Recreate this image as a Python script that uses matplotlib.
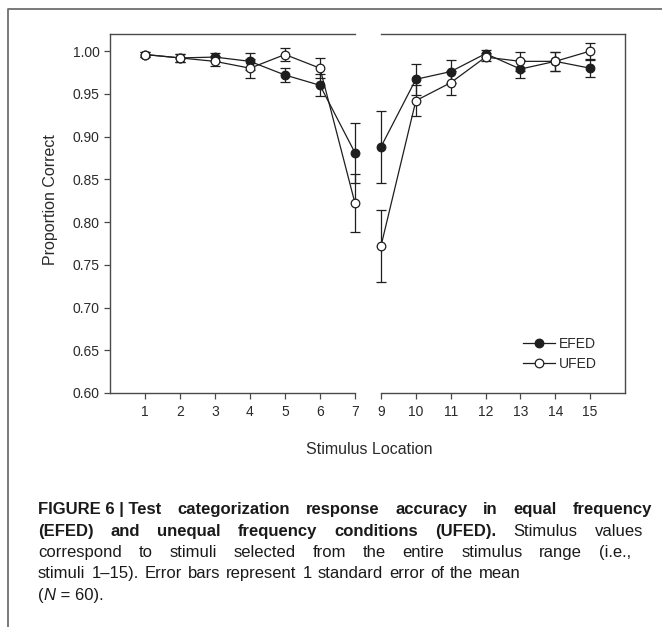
import numpy as np
import matplotlib.pyplot as plt
from matplotlib.lines import Line2D

W, H = 662, 627

# ---------------- data ----------------
stim_left = [1, 2, 3, 4, 5, 6, 7]
stim_right = [9, 10, 11, 12, 13, 14, 15]
efed = [0.996, 0.992, 0.993, 0.988, 0.972, 0.960, 0.881,
        0.888, 0.967, 0.976, 0.997, 0.979, 0.988, 0.980]
efed_se = [0.003, 0.005, 0.005, 0.010, 0.008, 0.013, 0.035,
           0.042, 0.018, 0.013, 0.004, 0.011, 0.011, 0.010]
ufed = [0.996, 0.992, 0.988, 0.980, 0.996, 0.980, 0.822,
        0.772, 0.942, 0.963, 0.993, 0.988, 0.988, 1.000]
ufed_se = [0.003, 0.005, 0.006, 0.011, 0.008, 0.012, 0.034,
           0.042, 0.018, 0.014, 0.005, 0.011, 0.011, 0.009]
yticks = [0.60, 0.65, 0.70, 0.75, 0.80, 0.85, 0.90, 0.95, 1.00]

caption = [
    [("FIGURE 6 | Test", "bold"), ("categorization", "bold"), ("response", "bold"),
     ("accuracy", "bold"), ("in", "bold"), ("equal", "bold"), ("frequency", "bold")],
    [("(EFED)", "bold"), ("and", "bold"), ("unequal", "bold"), ("frequency", "bold"),
     ("conditions", "bold"), ("(UFED).", "bold"), ("Stimulus", "normal"), ("values", "normal")],
    [(w, "normal") for w in "correspond to stimuli selected from the entire stimulus range (i.e.,".split()],
    [(w, "normal") for w in "stimuli 1\u201315). Error bars represent 1 standard error of the mean".split()],
]
caption_ends = [652, 643, 631, 521]

# ---------------- style ----------------
plt.rcParams['font.family'] = ['Liberation Sans', 'DejaVu Sans']
ink = '#1e1e1e'
axis_col = '#4a4a4a'
text_col = '#2a2a2a'

fig = plt.figure(figsize=(W / 100, H / 100), dpi=100)

def px_box(x0, y0, x1, y1):
    return [x0 / W, 1 - y1 / H, (x1 - x0) / W, (y1 - y0) / H]

top, bottom = 34, 393
axL = fig.add_axes(px_box(110, top, 355, bottom))
axR = fig.add_axes(px_box(381, top, 625, bottom))

n = len(stim_left)
for ax, xs, sl in [(axL, stim_left, slice(0, n)), (axR, stim_right, slice(n, None))]:
    for vals, errs in [(efed, efed_se), (ufed, ufed_se)]:
        eb = ax.errorbar(xs, vals[sl], yerr=errs[sl], fmt='none', ecolor=ink,
                         elinewidth=0.9, capsize=3.5, capthick=0.9, zorder=2)
        for art in eb.lines[1] + eb.lines[2]:
            art.set_clip_on(False)
    ax.plot(xs, efed[sl], '-o', color=ink, lw=0.9, ms=6.2, mfc=ink, mec=ink,
            mew=0.9, zorder=3, label='EFED', clip_on=False)
    ax.plot(xs, ufed[sl], '-o', color=ink, lw=0.9, ms=6.2, mfc='white', mec=ink,
            mew=0.9, zorder=4, label='UFED', clip_on=False)
    ax.set_ylim(0.60, 1.02)
    ax.set_xticks(xs)
    ax.tick_params(axis='both', direction='out', length=4, width=0.9,
                   color=axis_col, labelsize=10, labelcolor=text_col)
    ax.tick_params(axis='x', pad=5)
    for s in ax.spines.values():
        s.set_color(axis_col)
        s.set_linewidth(1.0)

axL.set_xlim(0, 7)
axR.set_xlim(9, 16)
axL.spines['right'].set_visible(False)
axR.spines['left'].set_visible(False)
axL.set_yticks(yticks)
axL.set_yticklabels(['%.2f' % v for v in yticks])
axR.set_yticks([])

axR.legend(loc='center left', bbox_to_anchor=(523 / W, 1 - 354 / H),
           bbox_transform=fig.transFigure, frameon=False, fontsize=10,
           handlelength=2.3, handletextpad=0.3, labelspacing=0.4,
           borderpad=0, borderaxespad=0, labelcolor=text_col)

fig.text(51 / W, 1 - 200 / H, 'Proportion Correct', rotation=90, ha='center',
         va='center', fontsize=11.5, color=text_col)
fig.text(369 / W, 1 - 449 / H, 'Stimulus Location', ha='center', va='center',
         fontsize=11.5, color=text_col)

# outer frame (open on right and bottom)
fig.add_artist(Line2D([8 / W, 8 / W, 1.01], [-0.01, 1 - 9 / H, 1 - 9 / H],
                      transform=fig.transFigure, color='#6e6e6e', lw=1.3))

# ---------------- caption, justified word by word ----------------
cap_size = 12
renderer = fig.canvas.get_renderer()
x_start = 38
line_base = [514, 536, 557, 578, 600]

def place_line(words, y, x_end):
    texts = [fig.text(0, 1 - y / H, w, fontsize=cap_size, fontweight=wt,
                      va='baseline', color='#1a1a1a')
             for w, wt in words]
    widths = [t.get_window_extent(renderer).width for t in texts]
    gap = (x_end - x_start - sum(widths)) / (len(texts) - 1)
    x = x_start
    for t, w in zip(texts, widths):
        t.set_x(x / W)
        x += w + gap

for words, y, xe in zip(caption, line_base, caption_ends):
    place_line(words, y, xe)

# last line: (N = 60).
y5 = 1 - line_base[4] / H
parts = [("(", "normal"), ("N", "italic"), (" = 60).", "normal")]
x = x_start
for s, st in parts:
    t = fig.text(x / W, y5, s, fontsize=cap_size, fontstyle=st,
                 va='baseline', color='#1a1a1a')
    x += t.get_window_extent(renderer).width

fig.savefig('out.png', dpi=100)
